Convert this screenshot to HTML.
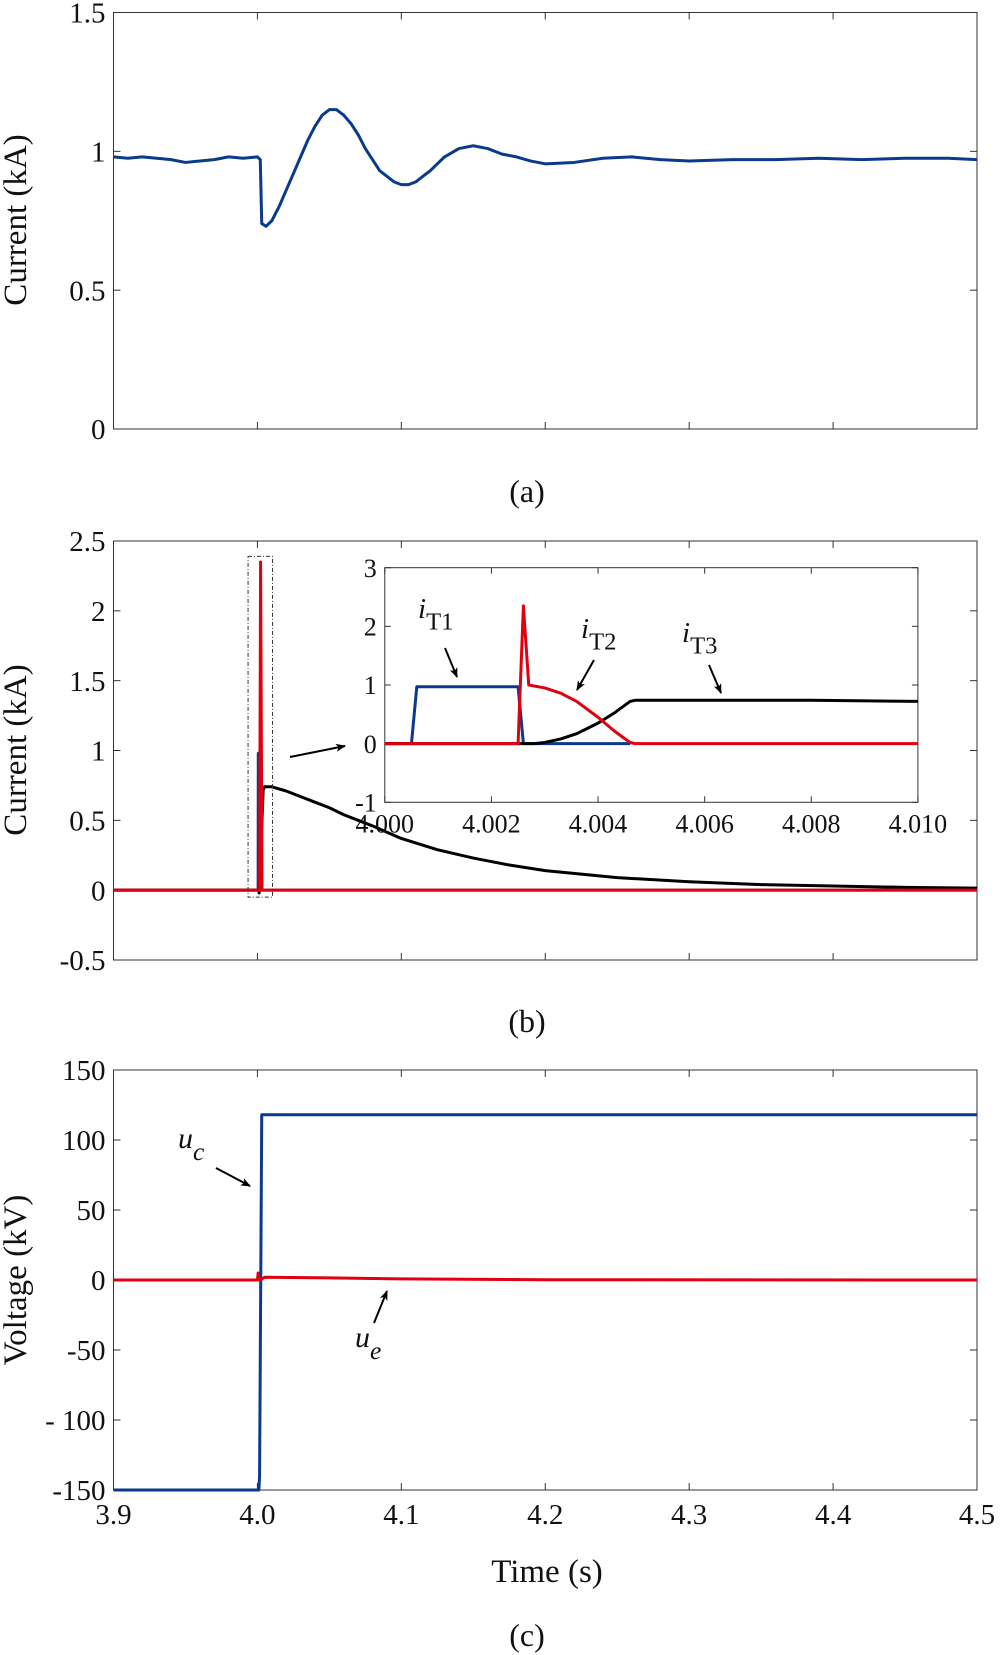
<!DOCTYPE html>
<html><head><meta charset="utf-8"><style>
body{margin:0;background:#fff}
svg{display:block}
text{font-family:"Liberation Serif",serif;fill:#111}
</style></head><body>
<svg id="fig" width="1000" height="1655" viewBox="0 0 1000 1655" xmlns="http://www.w3.org/2000/svg">
<defs><marker id="ah" markerWidth="10" markerHeight="8" refX="9" refY="4" orient="auto" markerUnits="userSpaceOnUse"><path d="M0,0 L10,4 L0,8 L2.5,4 Z" fill="#000"/></marker></defs>
<g id="pa"></g>
<g id="pb"></g>
<g id="pc"></g>
</svg>
<script>
// Panel a data
const aTimes=[3.9,3.91,3.92,3.93,3.94,3.95,3.96,3.97,3.98,3.99,4.0,4.002,4.003,4.006,4.01,4.015,4.02,4.025,4.03,4.035,4.04,4.045,4.05,4.055,4.06,4.065,4.07,4.075,4.08,4.085,4.09,4.095,4.1,4.105,4.11,4.115,4.12,4.13,4.14,4.15,4.16,4.17,4.18,4.19,4.2,4.22,4.24,4.26,4.28,4.3,4.33,4.36,4.39,4.42,4.45,4.48,4.5];
const aVals=[0.98,0.975,0.98,0.975,0.97,0.96,0.965,0.97,0.98,0.975,0.98,0.97,0.74,0.73,0.75,0.8,0.86,0.92,0.98,1.04,1.09,1.13,1.15,1.15,1.13,1.1,1.06,1.01,0.97,0.93,0.91,0.89,0.88,0.88,0.89,0.91,0.93,0.98,1.01,1.02,1.01,0.99,0.98,0.965,0.955,0.96,0.975,0.98,0.97,0.965,0.97,0.97,0.975,0.97,0.975,0.975,0.97];
// Panel b main data
const bBlackT=[3.9,4.001,4.0012,4.004,4.005,4.01,4.02,4.03,4.04,4.05,4.06,4.07,4.08,4.1,4.125,4.15,4.175,4.2,4.25,4.3,4.35,4.4,4.45,4.5];
const bBlackV=[0,0,-0.02,0.72,0.74,0.74,0.71,0.67,0.63,0.59,0.54,0.5,0.46,0.37,0.29,0.23,0.18,0.14,0.09,0.06,0.04,0.03,0.02,0.015];
const bBlueT=[3.9,4.0,4.0005,4.0006,4.0025,4.0026,4.5];
const bBlueV=[0,0,0,0.98,0.98,0,0];
const bRedT=[3.9,4.0015,4.0022,4.0032,4.5];
const bRedV=[0,0,2.35,0,0];
// Inset data
const iBlueT=[4.0,4.0005,4.0006,4.0025,4.0026,4.0046];
const iBlueV=[0,0,0.97,0.97,0,0];
const iRedT=[4.0,4.0025,4.0026,4.0027,4.003,4.0033,4.0036,4.004,4.0043,4.0046,4.0047,4.010];
const iRedV=[0,0,2.35,1.0,0.95,0.86,0.72,0.45,0.22,0.02,0,0];
const iBlackT=[4.0,4.0026,4.0028,4.003,4.0033,4.0036,4.004,4.0043,4.0046,4.0047,4.006,4.008,4.010];
const iBlackV=[0,0,0,0.02,0.08,0.17,0.35,0.52,0.72,0.74,0.74,0.74,0.72];
// Panel c data
const cBlueT=[3.9,4.001,4.0015,4.003,4.5];
const cBlueV=[-150,-150,-140,118,118];
const cRedT=[3.9,4.0,4.0005,4.0012,4.002,4.005,4.05,4.1,4.2,4.5];
const cRedV=[0,0,5,0,0,2,1.5,0.8,0.2,0];
const xTicks=[3.9,4.0,4.1,4.2,4.3,4.4,4.5];
const aYTicks=[0,0.5,1,1.5];
const bYTicks=[-0.5,0,0.5,1,1.5,2,2.5];
const cYTicks=[-150,-100,-50,0,50,100,150];
const iXTicks=[4.000,4.002,4.004,4.006,4.008,4.010];
const iYTicks=[-1,0,1,2,3];

const NS="http://www.w3.org/2000/svg";
function mk(parent,tag,attrs,txt){const e=document.createElementNS(NS,tag);for(const k in attrs)e.setAttribute(k,attrs[k]);if(txt!==undefined)e.textContent=txt;parent.appendChild(e);return e;}
function scale(d0,d1,r0,r1){return v=>r0+(v-d0)*(r1-r0)/(d1-d0);}
const L=113.5,R=977;
function axes(g,x,y,xt,yt,xl,top,bot,fmtY,showX,fmtX,fs,tl,xoff){
  const box=mk(g,'rect',{x:xl[0],y:top,width:xl[1]-xl[0],height:bot-top,fill:'none',stroke:'#333','stroke-width':1});
  
  xt.forEach(t=>{const px=x(t);mk(g,'line',{x1:px,y1:bot,x2:px,y2:bot-tl,stroke:'#333'});mk(g,'line',{x1:px,y1:top,x2:px,y2:top+tl,stroke:'#333'});
    if(showX){const tx=mk(g,'text',{x:px,y:bot+xoff,'font-size':fs,'text-anchor':'middle'},fmtX(t));}});
  yt.forEach(t=>{const py=y(t);mk(g,'line',{x1:xl[0],y1:py,x2:xl[0]+tl,y2:py,stroke:'#333'});mk(g,'line',{x1:xl[1],y1:py,x2:xl[1]-tl,y2:py,stroke:'#333'});
    const tx=mk(g,'text',{x:xl[0]-8,y:py+fs*0.35,'font-size':fs,'text-anchor':'end'},fmtY(t));});
}
function line(g,x,y,T,V,col,w,name){const d=T.map((t,i)=>(i?'L':'M')+x(t).toFixed(2)+','+y(V[i]).toFixed(2)).join(' ');
  const p=mk(g,'path',{d:d,fill:'none',stroke:col,'stroke-width':w,'stroke-linejoin':'round'});return p;}
function label(g,x,y,s,fs,name){const t=mk(g,'text',{x:x,y:y,'font-size':fs,'text-anchor':'middle'},s);return t;}
function ylab(g,cx,cy,s,name){const t=mk(g,'text',{x:0,y:0,'font-size':33,'text-anchor':'middle',transform:`translate(${cx},${cy}) rotate(-90)`},s);}
function arrow(g,x1,y1,x2,y2,name){const a=mk(g,'line',{x1,y1,x2,y2,stroke:'#000','stroke-width':2,'marker-end':'url(#ah)'});}
const X=scale(3.9,4.5,L,R);
const fmtN=v=>String(v);
// Panel a
const ga=document.getElementById('pa');
const ya=scale(0,1.5,429,12.5);
axes(ga,X,ya,xTicks,aYTicks,[L,R],12.5,429,fmtN,false,null,29,7,0);
line(ga,X,ya,aTimes,aVals,'#0a3a8c',3,'current-line');
ylab(ga,26,220,'Current (kA)','y-axis-title');
label(ga,527,502,'(a)',32,'caption-a');
// Panel b
const gb=document.getElementById('pb');
const yb=scale(-0.5,2.5,960,541);
axes(gb,X,yb,xTicks,bYTicks,[L,R],541,960,fmtN,false,null,29,7,0);
line(gb,X,yb,bBlueT,bBlueV,'#0a3a8c',3,'iT1-main');
line(gb,X,yb,bBlackT,bBlackV,'#000',3,'iT3-main');
line(gb,X,yb,bRedT,bRedV,'#e00010',3,'iT2-main');
const zb=mk(gb,'rect',{x:X(3.9935),y:yb(2.39),width:X(4.0105)-X(3.9935),height:yb(-0.05)-yb(2.39),fill:'none',stroke:'#333','stroke-width':1,'stroke-dasharray':'4,2,1,2'});

arrow(gb,290,757,345,746,'zoom-arrow');
ylab(gb,26,750,'Current (kA)','y-axis-title');
label(gb,527,1032,'(b)',32,'caption-b');
// Inset
const gi=mk(gb,'g',{});
const IT=567.7,IB=802.3;
const xi=scale(4.0,4.01,384.8,917.9),yi=scale(-1,3,IB,IT);
axes(gi,xi,yi,iXTicks,iYTicks,[384.8,917.9],IT,IB,fmtN,true,v=>v.toFixed(3),26,6,30);
line(gi,xi,yi,iBlueT,iBlueV,'#0a3a8c',3,'iT1-line');
line(gi,xi,yi,iBlackT,iBlackV,'#000',3,'iT3-line');
line(gi,xi,yi,iRedT,iRedV,'#e00010',3,'iT2-line');
function sublab(g,x,y,main,sub,name,fs,subItal){const t=mk(g,'text',{x:x,y:y,'font-size':fs});
  mk(t,'tspan',{'font-style':'italic'},main);const b=mk(t,'tspan',{dy:fs*0.4,'font-size':fs*0.85},sub);if(subItal)b.setAttribute('font-style','italic');}
sublab(gi,418,618,'i','T1','label-iT1',29);
sublab(gi,581,638,'i','T2','label-iT2',29);
sublab(gi,682,642,'i','T3','label-iT3',29);
arrow(gi,445,648,457,677,'arrow-iT1');
arrow(gi,594,660,577,690,'arrow-iT2');
arrow(gi,709,665,721,693,'arrow-iT3');
// Panel c
const gc=document.getElementById('pc');
const yc=scale(-150,150,1490,1070);
axes(gc,X,yc,xTicks,cYTicks,[L,R],1070,1490,v=>v===-100?'-  100':String(v),true,v=>v.toFixed(1),29,7,34);
line(gc,X,yc,cBlueT,cBlueV,'#0a3a8c',3,'uc-line');
line(gc,X,yc,cRedT,cRedV,'#e00010',3,'ue-line');
sublab(gc,178,1148,'u','c','label-uc',30,true);
sublab(gc,355,1347,'u','e','label-ue',30,true);
arrow(gc,216,1168,250,1186,'arrow-uc');
arrow(gc,374,1323,387,1291,'arrow-ue');
ylab(gc,26,1280,'Voltage (kV)','y-axis-title');
label(gc,547,1582,'Time (s)',33,'x-axis-title');
label(gc,527,1646,'(c)',32,'caption-c');
</script>
</body></html>
